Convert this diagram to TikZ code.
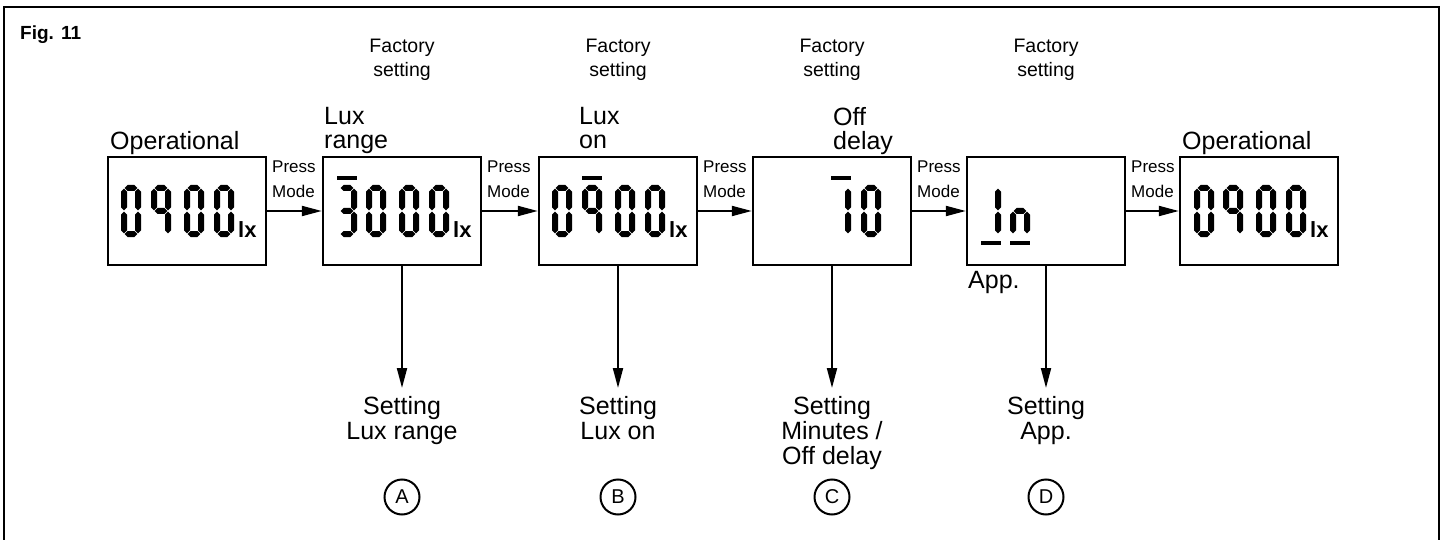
\documentclass[tikz,border=0pt]{standalone}
\usepackage{fontspec}
\setmainfont{Liberation Sans}
\usetikzlibrary{arrows.meta}
\newcommand\lcdt{3}
\newcommand\lcdH[3]{\fill (#1,#3) -- (#1+\lcdt,#3-\lcdt) -- (#2-\lcdt,#3-\lcdt) -- (#2,#3) -- (#2-\lcdt,#3+\lcdt) -- (#1+\lcdt,#3+\lcdt) -- cycle;}
\newcommand\lcdV[3]{\fill (#3,#1) -- (#3+\lcdt,#1+\lcdt) -- (#3+\lcdt,#2-\lcdt) -- (#3,#2) -- (#3-\lcdt,#2-\lcdt) -- (#3-\lcdt,#1+\lcdt) -- cycle;}
\newcommand\lcdsega{\lcdH{3.7}{16.3}{3}}
\newcommand\lcdsegb{\lcdV{3.7}{25.3}{17}}
\newcommand\lcdsegc{\lcdV{26.7}{48.3}{17}}
\newcommand\lcdsegd{\lcdH{3.7}{16.3}{49}}
\newcommand\lcdsege{\lcdV{26.7}{48.3}{3}}
\newcommand\lcdsegf{\lcdV{3.7}{25.3}{3}}
\newcommand\lcdsegg{\lcdH{3.7}{16.3}{26}}
\newcommand\lcddigit[3]{\begin{scope}[shift={(#1,#2)}]\foreach \s in {#3}{\csname lcdseg\s\endcsname}\end{scope}}
\newcommand\lcdbar[2]{\fill (#1,#2) rectangle ++(20,4);}
\begin{document}
\begin{tikzpicture}[x=1pt,y=-1pt,
  disp/.style={draw, line width=2.4pt, minimum width=158pt, minimum height=108pt, inner sep=0pt},
  conn/.style={line width=2pt, -{Triangle[length=20pt,width=10pt]}},
  big/.style={font=\fontsize{25}{24.5}\selectfont, inner sep=0pt},
  press/.style={font=\fontsize{17}{25}\selectfont, inner sep=0pt, align=left, anchor=north west},
  factory/.style={font=\fontsize{19.5}{24}\selectfont, inner sep=0pt, align=center, anchor=north},
  settxt/.style={font=\fontsize{25}{25}\selectfont, inner sep=0pt, align=center, anchor=north},
  circ/.style={draw, circle, line width=2pt, minimum size=35pt, inner sep=0pt, font=\fontsize{20}{20}\selectfont},
  lx/.style={font=\fontsize{22}{22}\selectfont\bfseries, inner sep=0pt, anchor=base west}]
\useasboundingbox (0,0) rectangle (1448,540);
% outer frame
\draw[line width=2.5pt] (4,560) -- (4,7) -- (1439,7) -- (1439,560);
\node[anchor=base west, inner sep=0pt, font=\fontsize{19}{19}\selectfont\bfseries] (fig) at (20,40) {Fig. 11};
% display boxes
\node[disp] (b1) at (187,211) {};
\node[disp] (b2) at (402,211) {};
\node[disp] (b3) at (618,211) {};
\node[disp] (b4) at (832,211) {};
\node[disp] (b5) at (1046,211) {};
\node[disp] (b6) at (1259,211) {};
% box 1 : 0900 lx
\lcddigit{121}{185}{a,b,c,d,e,f}
\lcddigit{151}{185}{a,b,c,f,g}
\lcddigit{184}{185}{a,b,c,d,e,f}
\lcddigit{214}{185}{a,b,c,d,e,f}
\node[lx] (lx1) at (238,237) {lx};
% box 2 : 3000 lx
\lcdbar{337}{176}
\lcddigit{337}{185}{a,b,c,d,g}
\lcddigit{366}{185}{a,b,c,d,e,f}
\lcddigit{399}{185}{a,b,c,d,e,f}
\lcddigit{429}{185}{a,b,c,d,e,f}
\node[lx] (lx2) at (453,237) {lx};
% box 3 : 0900 lx
\lcdbar{582}{176}
\lcddigit{552}{185}{a,b,c,d,e,f}
\lcddigit{582}{185}{a,b,c,f,g}
\lcddigit{615}{185}{a,b,c,d,e,f}
\lcddigit{645}{185}{a,b,c,d,e,f}
\node[lx] (lx3) at (669,237) {lx};
% box 4 : 10
\lcdbar{831}{176}
\lcddigit{831}{185}{b,c}
\lcddigit{861}{185}{a,b,c,d,e,f}
% box 5 : In
\lcddigit{981}{185}{b,c}
\lcddigit{1010}{185}{c,e,g}
\lcdbar{981}{241}
\lcdbar{1010}{241}
% box 6 : 0900 lx
\lcddigit{1194}{185}{a,b,c,d,e,f}
\lcddigit{1223}{185}{a,b,c,f,g}
\lcddigit{1256}{185}{a,b,c,d,e,f}
\lcddigit{1286}{185}{a,b,c,d,e,f}
\node[lx] (lx6) at (1310,237) {lx};
% labels above boxes
\node[big, anchor=base west] (op1) at (110,150) {Operational};
\node[big, align=left, anchor=north west] (t2) at (324,107) {Lux\\range};
\node[big, align=left, anchor=north west] (t3) at (579,107) {Lux\\on};
\node[big, align=left, anchor=north west] (t4) at (833,107) {Off\\delay};
\node[big, anchor=base west] (op6) at (1182,150) {Operational};
\node[big, anchor=base west] (app) at (968,288) {App.};
% factory settings
\node[factory] (f2) at (402,39) {Factory\\setting};
\node[factory] (f3) at (618,39) {Factory\\setting};
\node[factory] (f4) at (832,39) {Factory\\setting};
\node[factory] (f5) at (1046,39) {Factory\\setting};
% press mode labels
\node[press] (p1) at (272,161) {Press\\Mode};
\node[press] (p2) at (487,161) {Press\\Mode};
\node[press] (p3) at (703,161) {Press\\Mode};
\node[press] (p4) at (917,161) {Press\\Mode};
\node[press] (p5) at (1131,161) {Press\\Mode};
% horizontal connectors
\draw[conn] (b1.east) -- (b2.west);
\draw[conn] (b2.east) -- (b3.west);
\draw[conn] (b3.east) -- (b4.west);
\draw[conn] (b4.east) -- (b5.west);
\draw[conn] (b5.east) -- (b6.west);
% settings below
\node[settxt] (sA) at (402,396) {Setting\\Lux range};
\node[settxt] (sB) at (618,396) {Setting\\Lux on};
\node[settxt] (sC) at (832,396) {Setting\\Minutes /\\Off delay};
\node[settxt] (sD) at (1046,396) {Setting\\App.};
\draw[conn, shorten >=8pt] (b2.south) -- (sA.north);
\draw[conn, shorten >=8pt] (b3.south) -- (sB.north);
\draw[conn, shorten >=8pt] (b4.south) -- (sC.north);
\draw[conn, shorten >=8pt] (b5.south) -- (sD.north);
% circled letters
\node[circ] (cA) at (402,497) {A};
\node[circ] (cB) at (618,497) {B};
\node[circ] (cC) at (832,497) {C};
\node[circ] (cD) at (1046,497) {D};
\end{tikzpicture}
\end{document}
